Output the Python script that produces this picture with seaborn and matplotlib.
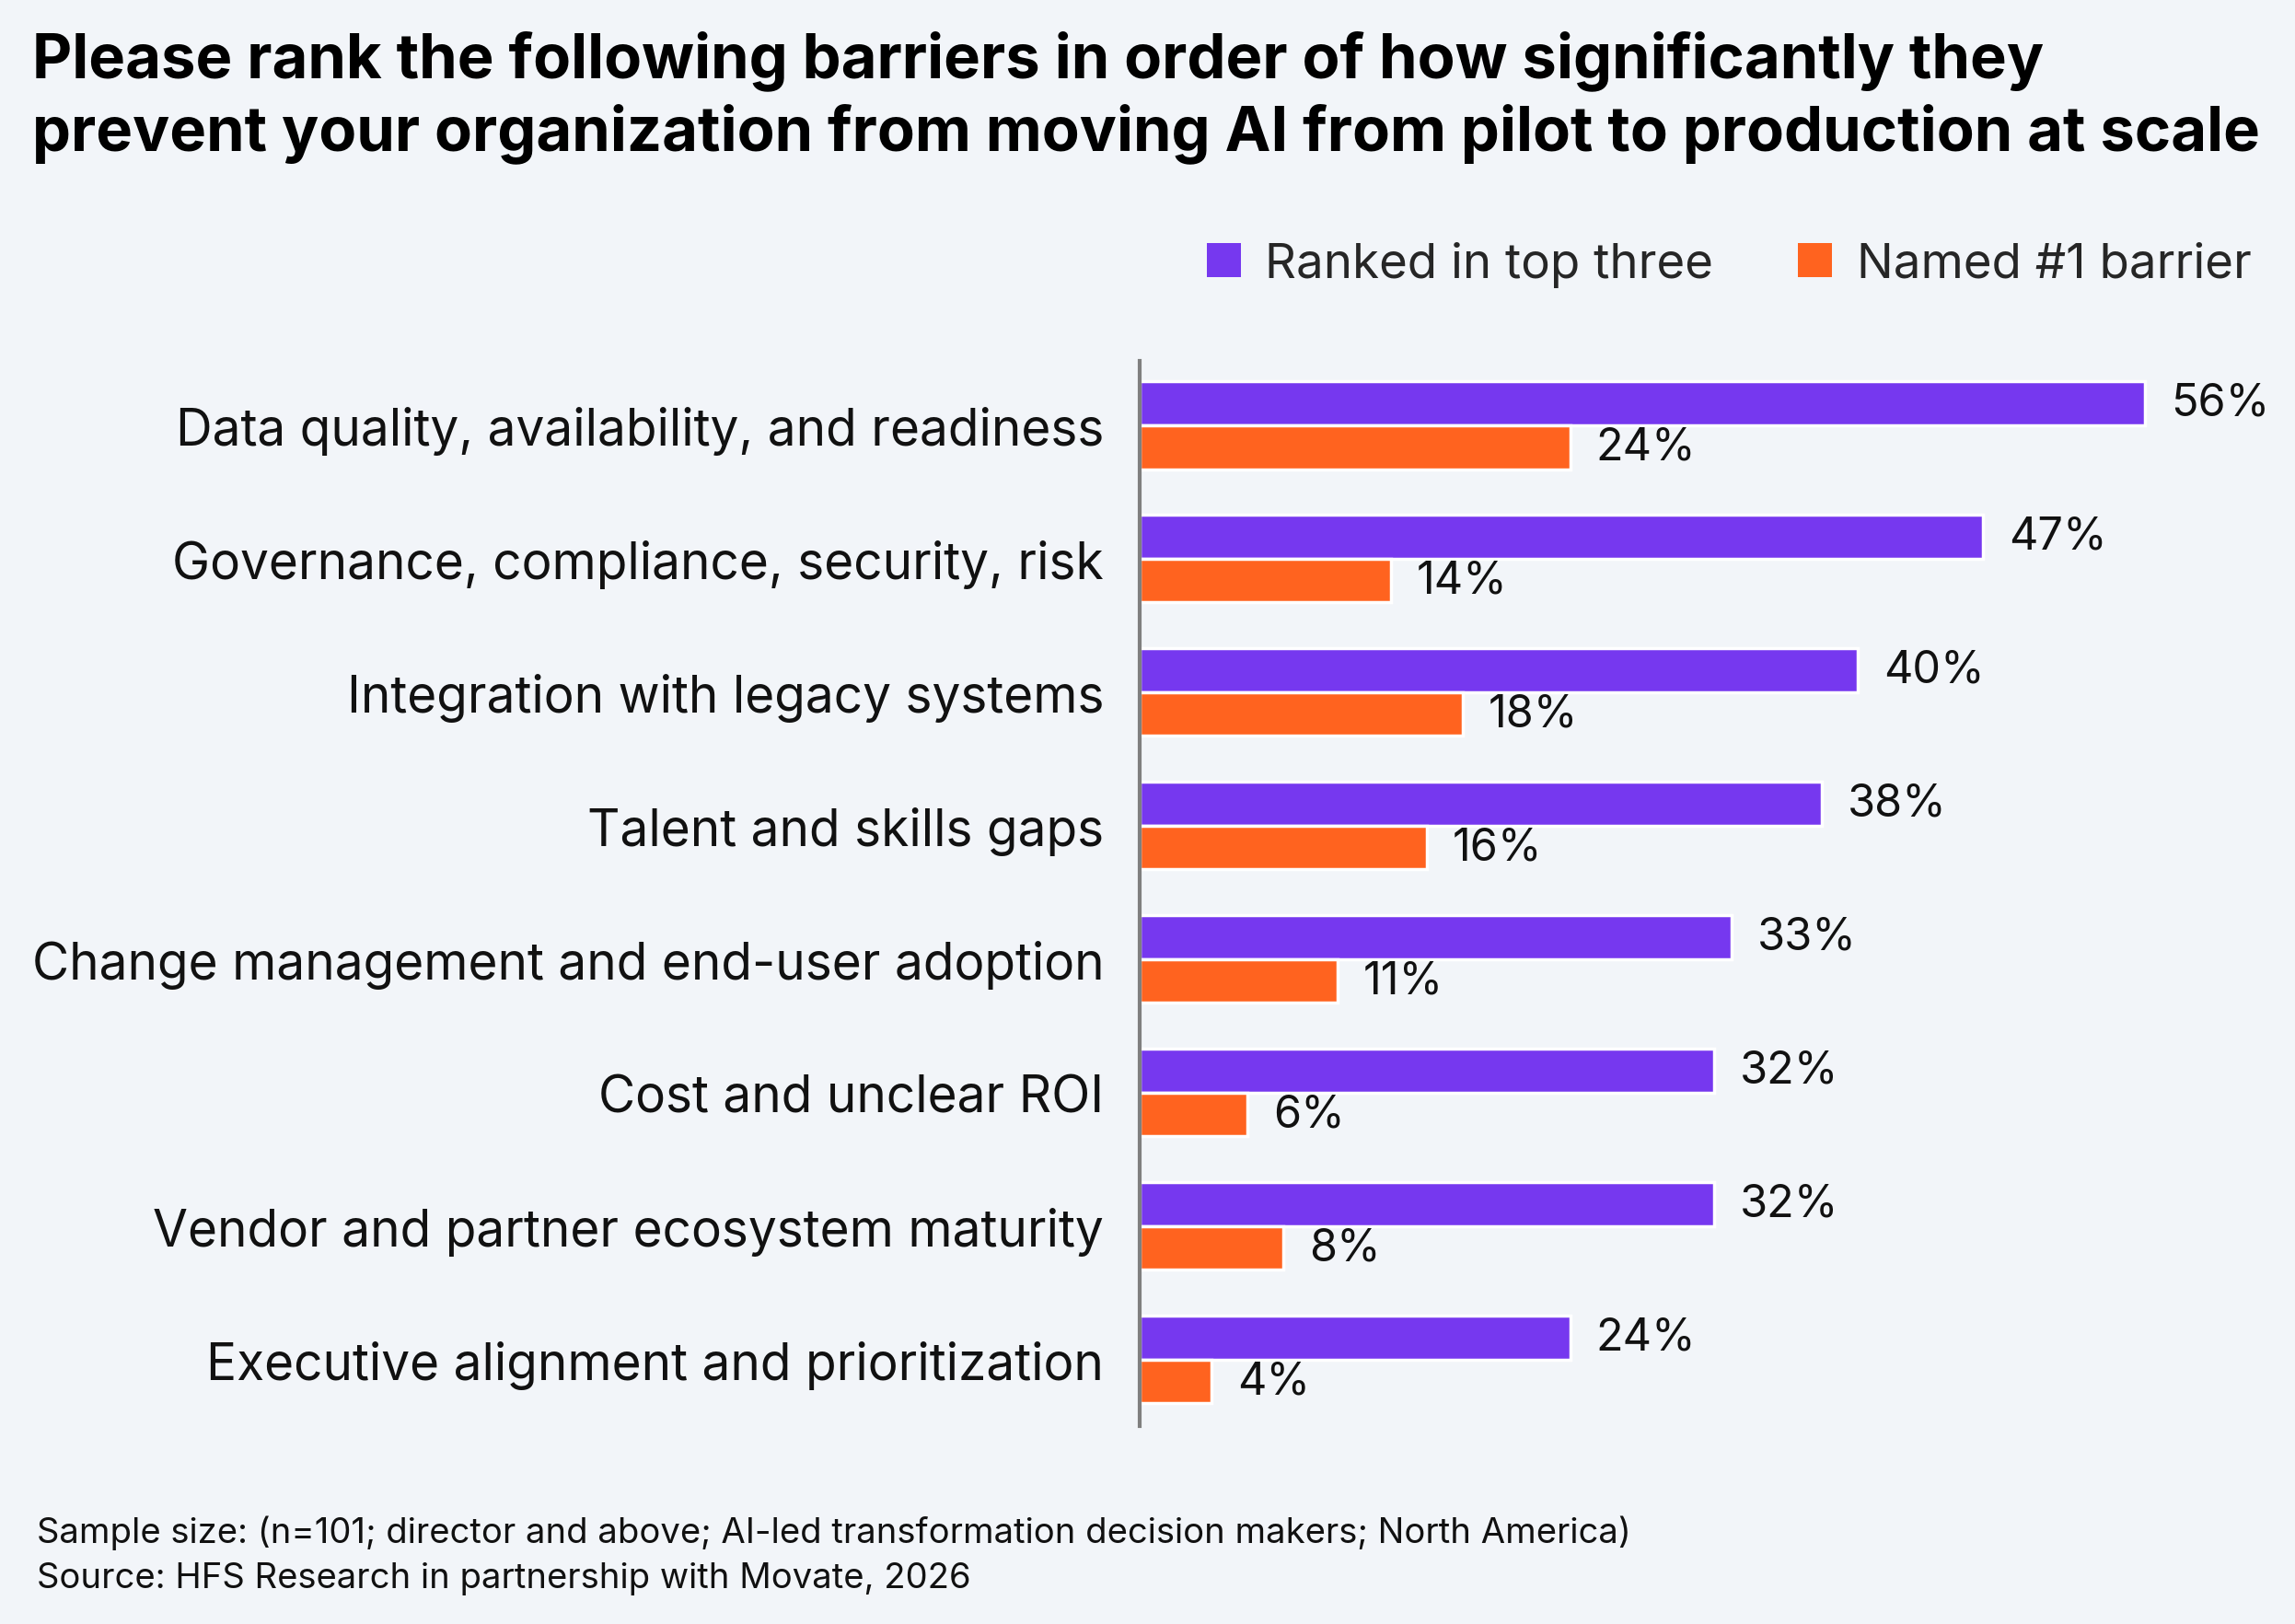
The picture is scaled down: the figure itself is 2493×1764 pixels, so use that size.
import matplotlib.pyplot as plt
import pandas as pd
import seaborn as sns

categories = [
    'Data quality, availability, and readiness',
    'Governance, compliance, security, risk',
    'Integration with legacy systems',
    'Talent and skills gaps',
    'Change management and end-user adoption',
    'Cost and unclear ROI',
    'Vendor and partner ecosystem maturity',
    'Executive alignment and prioritization',
]
top_three = [56, 47, 40, 38, 33, 32, 32, 24]
named_first = [24, 14, 18, 16, 11, 6, 8, 4]
series_names = ['Ranked in top three', 'Named #1 barrier']

title = ('Please rank the following barriers in order of how significantly they\n'
         'prevent your organization from moving AI from pilot to production at scale')
notes = ['Sample size: (n=101; director and above; AI-led transformation decision makers; North America)',
         'Source: HFS Research in partnership with Movate, 2026']

BG = '#F2F5F9'
PURPLE = '#7638EF'
ORANGE = '#FF631F'

sns.set_theme(style='white')
plt.rcParams['font.family'] = ['Inter', 'DejaVu Sans']
plt.rcParams['figure.facecolor'] = BG
plt.rcParams['axes.facecolor'] = BG

df = pd.DataFrame({
    'barrier': categories * 2,
    'value': top_three + named_first,
    'series': [series_names[0]] * len(categories) + [series_names[1]] * len(categories),
})

fig = plt.figure(figsize=(24.93, 17.65), dpi=100)
ax = fig.add_axes([0.4966, 0.1218, 0.4904, 0.6555])

sns.barplot(data=df, y='barrier', x='value', hue='series', order=categories,
            hue_order=series_names, palette=[PURPLE, ORANGE], orient='h',
            width=0.66, edgecolor='white', linewidth=2.5, saturation=1,
            ax=ax)

for cont in ax.containers:
    ax.bar_label(cont, fmt='%d%%', padding=20, fontsize=35, color='#111111')

ax.set_xlim(0, 62.7)
ax.set_ylim(7.5, -0.48)
ax.set_xlabel('')
ax.set_ylabel('')
ax.set_xticks([])
ax.tick_params(axis='y', length=0, pad=28, labelsize=39.6, labelcolor='#111111')
for s in ['top', 'right', 'bottom']:
    ax.spines[s].set_visible(False)
ax.spines['left'].set_color('#7f7f7f')
ax.spines['left'].set_linewidth(3)

sns.move_legend(ax, loc='center right', bbox_to_anchor=(1.0, 0.837),
                bbox_transform=fig.transFigure, ncol=2, frameon=False, title=None,
                fontsize=38, handlelength=0.7, handleheight=0.7, handletextpad=0.5,
                columnspacing=1.75)
for h in ax.get_legend().legend_handles:
    h.set_edgecolor('none')

fig.text(0.014, 0.981, title, fontsize=48.2, fontweight='bold', va='top', ha='left',
         color='#000000', linespacing=1.25)
fig.text(0.016, 0.0565, notes[0], fontsize=27.5, va='center', ha='left', color='#111111')
fig.text(0.016, 0.0285, notes[1], fontsize=27.5, va='center', ha='left', color='#111111')

fig.savefig('out.png', dpi=100, facecolor=BG)
